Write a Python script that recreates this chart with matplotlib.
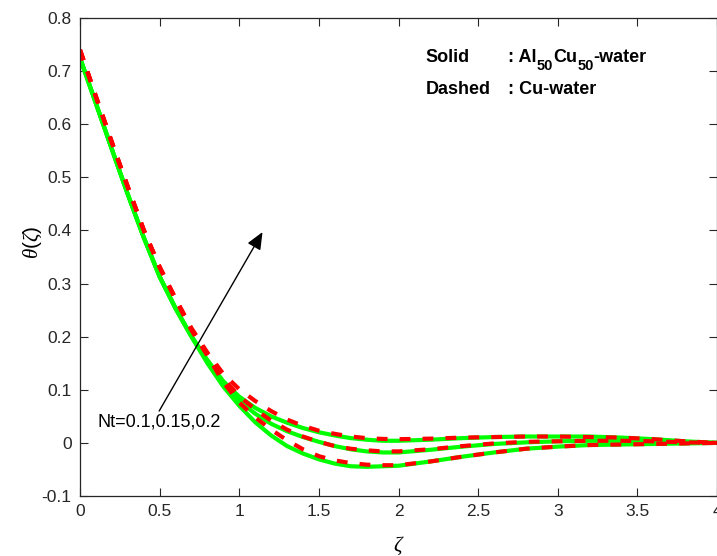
import matplotlib
matplotlib.use("Agg")
import matplotlib.pyplot as plt

plt.rcParams["font.family"] = ["Liberation Sans", "DejaVu Sans"]
plt.rcParams["mathtext.fontset"] = "custom"
plt.rcParams["mathtext.rm"] = "Liberation Sans"
plt.rcParams["mathtext.it"] = "Liberation Serif:italic"
plt.rcParams["mathtext.bf"] = "Liberation Sans:bold"

# temperature profiles theta(zeta) for Nt = 0.1, 0.15, 0.2
zeta = [0.0, 0.1, 0.2, 0.3, 0.4, 0.5, 0.6, 0.7, 0.8, 0.9, 1.0, 1.1, 1.2, 1.3, 1.4,
        1.5, 1.6, 1.7, 1.8, 1.9, 2.0, 2.2, 2.4, 2.6, 2.8, 3.0, 3.2, 3.4, 3.6, 3.8, 4.0]

# Al50Cu50-water (solid)
hybrid_nt1 = [0.725, 0.639, 0.553, 0.468, 0.387, 0.313, 0.254, 0.201, 0.156, 0.116, 0.087,
              0.066, 0.050, 0.038, 0.028, 0.020, 0.014, 0.009, 0.006, 0.004, 0.004, 0.006,
              0.009, 0.011, 0.012, 0.012, 0.012, 0.010, 0.007, 0.003, 0.000]
hybrid_nt2 = [0.725, 0.639, 0.553, 0.468, 0.387, 0.313, 0.253, 0.200, 0.153, 0.111, 0.079,
              0.055, 0.036, 0.022, 0.011, 0.002, -0.006, -0.012, -0.016, -0.018, -0.018,
              -0.013, -0.007, -0.002, 0.001, 0.003, 0.004, 0.004, 0.003, 0.001, 0.000]
hybrid_nt3 = [0.725, 0.639, 0.553, 0.468, 0.387, 0.313, 0.253, 0.200, 0.150, 0.106, 0.070,
              0.039, 0.014, -0.006, -0.020, -0.031, -0.039, -0.044, -0.045, -0.044, -0.043,
              -0.035, -0.026, -0.018, -0.011, -0.007, -0.004, -0.003, -0.002, -0.001, 0.000]

# Cu-water (dashed)
cu_nt1 = [0.740, 0.652, 0.566, 0.482, 0.401, 0.331, 0.272, 0.216, 0.170, 0.130, 0.101,
          0.079, 0.060, 0.044, 0.032, 0.023, 0.017, 0.012, 0.009, 0.0075, 0.007, 0.008,
          0.010, 0.011, 0.012, 0.012, 0.011, 0.010, 0.007, 0.003, 0.000]
cu_nt2 = [0.740, 0.652, 0.566, 0.482, 0.401, 0.331, 0.271, 0.214, 0.167, 0.121, 0.088,
          0.063, 0.042, 0.025, 0.012, 0.002, -0.006, -0.011, -0.014, -0.016, -0.016,
          -0.012, -0.006, -0.001, 0.002, 0.003, 0.004, 0.004, 0.003, 0.001, 0.000]
cu_nt3 = [0.740, 0.652, 0.566, 0.482, 0.401, 0.331, 0.270, 0.212, 0.164, 0.114, 0.076,
          0.048, 0.025, 0.005, -0.012, -0.025, -0.033, -0.038, -0.041, -0.042, -0.042,
          -0.035, -0.026, -0.018, -0.011, -0.007, -0.004, -0.003, -0.002, -0.001, 0.000]

xticks = [0, 0.5, 1, 1.5, 2, 2.5, 3, 3.5, 4]
yticks = [-0.1, 0, 0.1, 0.2, 0.3, 0.4, 0.5, 0.6, 0.7, 0.8]

fig = plt.figure(figsize=(7.17, 5.56), dpi=100)
ax = fig.add_axes([0.1116, 0.1079, 0.8884, 0.8597])

for y in (hybrid_nt1, hybrid_nt2, hybrid_nt3):
    ax.plot(zeta, y, color="#00ff00", lw=3.0, solid_capstyle="butt")
for y in (cu_nt1, cu_nt2, cu_nt3):
    ax.plot(zeta, y, color="#ff0000", lw=3.0, ls=(0, (2.6, 2.9)))

ax.set_xlim(0, 4)
ax.set_ylim(-0.1, 0.8)
ax.set_xticks(xticks)
ax.set_xticklabels([f"{t:g}" for t in xticks])
ax.set_yticks(yticks)
ax.set_yticklabels([f"{t:g}" for t in yticks])
ax.tick_params(direction="in", length=6, width=0.8, color="#262626",
               labelcolor="#262626", labelsize=12.5, top=True, right=True, pad=6)
for s in ax.spines.values():
    s.set_color("#262626")
    s.set_linewidth(0.9)

ax.set_xlabel(r"$\zeta$", fontsize=15)
ax.set_ylabel(r"$\theta(\zeta)$", fontsize=15)
ax.xaxis.set_label_coords(0.5, -0.082)
ax.yaxis.set_label_coords(-0.056, 0.53)

ax.annotate("", xy=(1.146, 0.397), xytext=(0.497, 0.060),
            arrowprops=dict(arrowstyle="-|>,head_length=0.7,head_width=0.3",
                            color="k", lw=1.0, mutation_scale=15, shrinkA=0, shrinkB=0))
ax.text(0.107, 0.040, "Nt=0.1,0.15,0.2", fontsize=13, ha="left", va="center")


def chained_text(ax, x, y, parts, size=13, sub_size=10.5):
    # lay out text pieces one after another, lowering the subscript pieces
    first = ax.text(x, y, parts[0][0], fontsize=size, fontweight="bold", va="bottom")
    prev = first
    for txt, is_sub in parts[1:]:
        prev = ax.annotate(txt, xy=(1, 0), xycoords=(prev, first),
                           xytext=(0, -4.5 if is_sub else 0), textcoords="offset points",
                           fontsize=sub_size if is_sub else size, fontweight="bold",
                           va="bottom", ha="left")
    return first


ax.text(2.17, 0.709, "Solid", fontsize=13, fontweight="bold", va="bottom")
chained_text(ax, 2.69, 0.709, [(": Al", False), ("50", True), ("Cu", False),
                               ("50", True), ("-water", False)])
ax.text(2.17, 0.649, "Dashed", fontsize=13, fontweight="bold", va="bottom")
ax.text(2.69, 0.649, ": Cu-water", fontsize=13, fontweight="bold", va="bottom")

fig.savefig("out.png", dpi=100)
